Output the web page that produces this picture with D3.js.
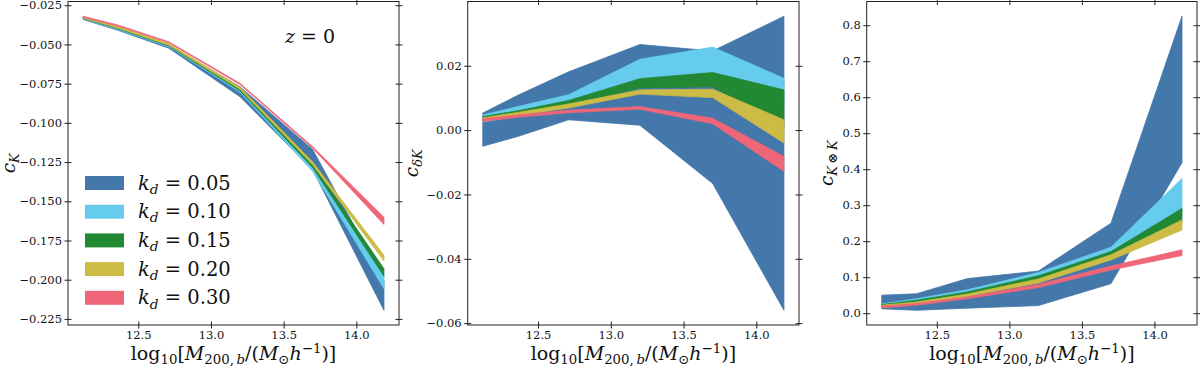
<!DOCTYPE html>
<html>
<head>
<meta charset="utf-8">
<script src="https://cdn.jsdelivr.net/npm/d3@7"></script>
<style>
  body { margin: 0; background: #fff; }
  svg { display: block; font-family: 'DejaVu Serif', serif; }
</style>
</head>
<body>
<svg id="fig" width="1200" height="368"></svg>
<script>
//Mass bin centres, log10[M200b / (Msun/h)].
const logMass = [12.12, 12.36, 12.71, 13.2, 13.7, 14.19];
//Filter scales and the colours used for their bands.
const kdValues = ['0.05', '0.10', '0.15', '0.20', '0.30'];
const kdColors = ['#4477AA', '#66CCEE', '#228833', '#CCBB44', '#EE6677'];

//c_K bands, one row per k_d (lower and upper edge).
const cKLow = [
  [-0.0341, -0.0410, -0.0524, -0.0834, -0.1300, -0.2195],
  [-0.0338, -0.0404, -0.0515, -0.0805, -0.1310, -0.2057],
  [-0.0335, -0.0399, -0.0510, -0.0796, -0.1285, -0.1978],
  [-0.0332, -0.0395, -0.0505, -0.0786, -0.1268, -0.1880],
  [-0.0327, -0.0383, -0.0490, -0.0756, -0.1162, -0.1648]
];
const cKHigh = [
  [-0.0332, -0.0392, -0.0502, -0.0770, -0.1170, -0.2005],
  [-0.0330, -0.0394, -0.0505, -0.0792, -0.1285, -0.1970],
  [-0.0328, -0.0390, -0.0500, -0.0783, -0.1265, -0.1930],
  [-0.0326, -0.0386, -0.0496, -0.0773, -0.1250, -0.1844],
  [-0.0320, -0.0376, -0.0483, -0.0748, -0.1152, -0.1602]
];

//c_deltaK bands.
const cdKLow = [
  [-0.0050, -0.0020, 0.0032, 0.0015, -0.0166, -0.0560],
  [0.0025, 0.0044, 0.0074, 0.0140, 0.0145, 0.0085],
  [0.0031, 0.0046, 0.0076, 0.0131, 0.0135, 0.0010],
  [0.0029, 0.0046, 0.0069, 0.0112, 0.0101, -0.0040],
  [0.0027, 0.0040, 0.0054, 0.0065, 0.0020, -0.0128]
];
const cdKHigh = [
  [0.0053, 0.0108, 0.0181, 0.0266, 0.0246, 0.0354],
  [0.0047, 0.0073, 0.0110, 0.0220, 0.0258, 0.0161],
  [0.0042, 0.0060, 0.0092, 0.0160, 0.0179, 0.0125],
  [0.0038, 0.0055, 0.0081, 0.0125, 0.0127, 0.0032],
  [0.0035, 0.0047, 0.0062, 0.0073, 0.0037, -0.0082]
];

//c_KxK bands.
const cKKLow = [
  [0.012, 0.008, 0.014, 0.021, 0.082, 0.418],
  [0.018, 0.030, 0.056, 0.100, 0.165, 0.280],
  [0.017, 0.027, 0.050, 0.092, 0.155, 0.250],
  [0.016, 0.024, 0.046, 0.084, 0.148, 0.231],
  [0.015, 0.022, 0.040, 0.071, 0.120, 0.160]
];
const cKKHigh = [
  [0.050, 0.054, 0.096, 0.117, 0.250, 0.825],
  [0.026, 0.040, 0.065, 0.113, 0.183, 0.374],
  [0.024, 0.036, 0.059, 0.104, 0.171, 0.291],
  [0.022, 0.031, 0.053, 0.095, 0.162, 0.259],
  [0.020, 0.027, 0.045, 0.080, 0.131, 0.176]
];

//Tick values.
const massTicks = [12.5, 13.0, 13.5, 14.0];
const cKTicks = [-0.225, -0.2, -0.175, -0.15, -0.125, -0.1, -0.075, -0.05, -0.025];
const cdKTicks = [-0.06, -0.04, -0.02, 0, 0.02];
const cKKTicks = [0, 0.1, 0.2, 0.3, 0.4, 0.5, 0.6, 0.7, 0.8];

const svg = d3.select('#fig');
const panelTop = 1.5, panelBottom = 325;
const tickFont = 11.5;

//Writes math-like text as tspans. Each part may be italic, a subscript or a superscript.
function mathText(sel, parts, size) {
  let shift = 0;
  parts.forEach(p => {
    let target = p.sub ? 0.22 * size : (p.sup ? -0.38 * size : 0);
    sel.append('tspan')
      .attr('dy', target - shift)
      .style('font-size', (p.sub || p.sup ? size * 0.7 : size) + 'px')
      .style('font-style', p.it ? 'italic' : 'normal')
      .text(p.t);
    shift = target;
  });
}

//Pads a [min, max] extent by 5% on both sides, like matplotlib does.
function padded(ext) {
  let r = ext[1] - ext[0];
  return [ext[0] - 0.05 * r, ext[1] + 0.05 * r];
}

const massLabel = [
  {t: 'log'}, {t: '10', sub: 1}, {t: '['}, {t: 'M', it: 1}, {t: '200,\u2009', sub: 1}, {t: 'b', sub: 1, it: 1},
  {t: '/('}, {t: 'M', it: 1}, {t: '\u2299', sub: 1}, {t: 'h', it: 1}, {t: '\u22121', sup: 1}, {t: ')]'}
];

//Draws one panel: the bands, the frame with in-out ticks and the labels.
function drawPanel(left, right, low, high, yTicks, yFmt, yLabel, labelX) {
  let x = d3.scaleLinear().domain(padded(d3.extent(logMass))).range([left, right]);
  let all = low.flat().concat(high.flat());
  let y = d3.scaleLinear().domain(padded(d3.extent(all))).range([panelBottom, panelTop]);

  let g = svg.append('g');

  //Bands, drawn in k_d order so the larger scales sit on top.
  kdValues.forEach((kd, k) => {
    let area = d3.area()
      .x(i => x(logMass[i]))
      .y0(i => y(low[k][i]))
      .y1(i => y(high[k][i]));
    g.append('path')
      .attr('d', area(d3.range(logMass.length)))
      .attr('fill', kdColors[k])
      .attr('stroke', kdColors[k])
      .attr('stroke-width', 0.8)
      .attr('stroke-linejoin', 'round');
  });

  //Axes with ticks crossing the frame.
  let tl = 3.5;
  let axes = [
    {ax: d3.axisBottom(x).tickValues(massTicks).tickFormat(d3.format('.1f')), tr: `translate(0,${panelBottom})`, dir: 'y'},
    {ax: d3.axisTop(x).tickValues(massTicks).tickFormat(''), tr: `translate(0,${panelTop})`, dir: 'y'},
    {ax: d3.axisLeft(y).tickValues(yTicks).tickFormat(d3.format(yFmt)), tr: `translate(${left},0)`, dir: 'x'},
    {ax: d3.axisRight(y).tickValues(yTicks).tickFormat(''), tr: `translate(${right},0)`, dir: 'x'}
  ];
  axes.forEach(a => {
    let ag = g.append('g').attr('transform', a.tr)
      .call(a.ax.tickSize(tl).tickPadding(2.5));
    ag.select('.domain').remove();
    ag.selectAll('.tick line').attr(a.dir + '1', -tl).attr(a.dir + '2', tl)
      .attr('stroke', '#222').attr('stroke-width', 1);
    ag.selectAll('text').attr('font-family', 'DejaVu Serif').attr('font-size', tickFont).attr('fill', '#111');
  });

  //Frame.
  g.append('rect')
    .attr('x', left).attr('y', panelTop)
    .attr('width', right - left).attr('height', panelBottom - panelTop)
    .attr('fill', 'none').attr('stroke', '#222').attr('stroke-width', 1);

  //x label.
  let xl = g.append('text')
    .attr('x', (left + right) / 2).attr('y', 360)
    .attr('text-anchor', 'middle').attr('fill', '#111');
  mathText(xl, massLabel, 19);

  //y label.
  let yl = g.append('text')
    .attr('transform', `translate(${labelX},${(panelTop + panelBottom) / 2})rotate(-90)`)
    .attr('text-anchor', 'middle').attr('fill', '#111');
  mathText(yl, yLabel, 18.5);
}

drawPanel(68, 399, cKLow, cKHigh, cKTicks, '.3f',
  [{t: 'c', it: 1}, {t: 'K', sub: 1, it: 1}], 15);
drawPanel(467.7, 799, cdKLow, cdKHigh, cdKTicks, '.2f',
  [{t: 'c', it: 1}, {t: '\u03B4K', sub: 1, it: 1}], 418);
drawPanel(866.7, 1197, cKKLow, cKKHigh, cKKTicks, '.1f',
  [{t: 'c', it: 1}, {t: 'K', sub: 1, it: 1}, {t: '\u2009\u2297\u2009', sub: 1}, {t: 'K', sub: 1, it: 1}], 833);

//Redshift note in the first panel.
let zt = svg.append('text').attr('x', 285).attr('y', 43).attr('fill', '#111');
mathText(zt, [{t: 'z', it: 1}, {t: ' = 0'}], 19);

//Legend in the first panel.
let legend = svg.append('g').attr('transform', 'translate(85,183)');
kdValues.forEach((kd, k) => {
  let row = legend.append('g').attr('transform', `translate(0,${k * 28.7})`);
  row.append('rect')
    .attr('x', 0).attr('y', -7).attr('width', 39).attr('height', 14)
    .attr('fill', kdColors[k]);
  let t = row.append('text').attr('x', 53).attr('y', 6.5).attr('fill', '#111');
  mathText(t, [{t: 'k', it: 1}, {t: 'd', sub: 1, it: 1}, {t: ' = ' + kd}], 19.5);
});
</script>
</body>
</html>
